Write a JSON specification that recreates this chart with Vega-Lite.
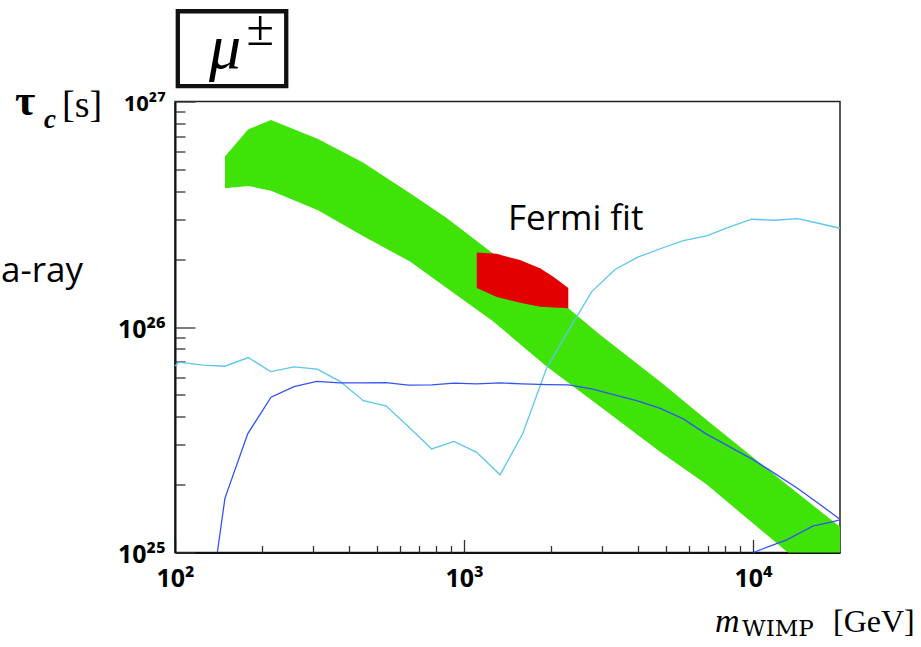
{
  "$schema": "https://vega.github.io/schema/vega-lite/v6.json",
  "width": 665,
  "height": 451,
  "autosize": {"type": "none"},
  "padding": {"left": 175, "top": 101.5, "right": 81, "bottom": 94.5},
  "background": "white",
  "config": {"view": {"stroke": "#222", "strokeWidth": 1.5}},
  "resolve": {"axis": {"x": "independent", "y": "independent"}},
  "datasets": {
    "band": [
      {"m": 148.9, "tau": 5.70e26, "tau2": 4.12e26},
      {"m": 179.3, "tau": 7.53e26, "tau2": 4.22e26},
      {"m": 214.9, "tau": 8.28e26, "tau2": 4.02e26},
      {"m": 312.5, "tau": 6.82e26, "tau2": 3.29e26},
      {"m": 447.2, "tau": 5.37e26, "tau2": 2.53e26},
      {"m": 650.6, "tau": 3.92e26, "tau2": 1.95e26},
      {"m": 871.2, "tau": 3.04e26, "tau2": 1.49e26},
      {"m": 1260, "tau": 2.12e26, "tau2": 1.06e26},
      {"m": 1932, "tau": 1.42e26, "tau2": 6.68e25},
      {"m": 2296, "tau": 1.21e26, "tau2": 5.66e25},
      {"m": 2956, "tau": 9.23e25, "tau2": 4.44e25},
      {"m": 4766, "tau": 5.73e25, "tau2": 2.80e25},
      {"m": 6916, "tau": 3.87e25, "tau2": 2.00e25},
      {"m": 13081, "tau": 2.00e25, "tau2": 1.01e25},
      {"m": 20000, "tau": 1.30e25, "tau2": 6.36e24}
    ],
    "fermi": [
      {"m": 1107, "tau": 2.14e26, "tau2": 1.49e26},
      {"m": 1298, "tau": 2.11e26, "tau2": 1.36e26},
      {"m": 1562, "tau": 1.98e26, "tau2": 1.28e26},
      {"m": 1832, "tau": 1.82e26, "tau2": 1.23e26},
      {"m": 2037, "tau": 1.67e26, "tau2": 1.22e26},
      {"m": 2296, "tau": 1.49e26, "tau2": 1.21e26}
    ],
    "gamma": [
      {"m": 100, "tau": 6.72e25},
      {"m": 103.2, "tau": 6.98e25},
      {"m": 125.3, "tau": 6.77e25},
      {"m": 148.9, "tau": 6.70e25},
      {"m": 179.3, "tau": 7.32e25},
      {"m": 214.4, "tau": 6.34e25},
      {"m": 258.1, "tau": 6.66e25},
      {"m": 310.8, "tau": 6.50e25},
      {"m": 372.3, "tau": 5.74e25},
      {"m": 448.3, "tau": 4.71e25},
      {"m": 537.1, "tau": 4.47e25},
      {"m": 641.7, "tau": 3.62e25},
      {"m": 773.0, "tau": 2.88e25},
      {"m": 923.4, "tau": 3.11e25},
      {"m": 1106.5, "tau": 2.78e25},
      {"m": 1332.3, "tau": 2.21e25},
      {"m": 1596, "tau": 3.36e25},
      {"m": 1932, "tau": 6.57e25},
      {"m": 2296, "tau": 9.61e25},
      {"m": 2767, "tau": 1.435e26},
      {"m": 3331, "tau": 1.80e26},
      {"m": 4010, "tau": 2.045e26},
      {"m": 4831, "tau": 2.235e26},
      {"m": 5741, "tau": 2.415e26},
      {"m": 6916, "tau": 2.534e26},
      {"m": 8174, "tau": 2.758e26},
      {"m": 9897, "tau": 3.005e26},
      {"m": 11915, "tau": 2.975e26},
      {"m": 14277, "tau": 3.024e26},
      {"m": 17125, "tau": 2.870e26},
      {"m": 20000, "tau": 2.741e26}
    ],
    "bound": [
      {"seg": "a", "m": 140.1, "tau": 1.00e25},
      {"seg": "a", "m": 148.9, "tau": 1.742e25},
      {"seg": "a", "m": 178.5, "tau": 3.358e25},
      {"seg": "a", "m": 214.9, "tau": 4.885e25},
      {"seg": "a", "m": 258.1, "tau": 5.443e25},
      {"seg": "a", "m": 309.3, "tau": 5.739e25},
      {"seg": "a", "m": 372.3, "tau": 5.652e25},
      {"seg": "a", "m": 448.3, "tau": 5.652e25},
      {"seg": "a", "m": 537.1, "tau": 5.670e25},
      {"seg": "a", "m": 641.7, "tau": 5.521e25},
      {"seg": "a", "m": 773.0, "tau": 5.538e25},
      {"seg": "a", "m": 923.4, "tau": 5.635e25},
      {"seg": "a", "m": 1106.5, "tau": 5.594e25},
      {"seg": "a", "m": 1332.3, "tau": 5.652e25},
      {"seg": "a", "m": 1596, "tau": 5.594e25},
      {"seg": "a", "m": 1932, "tau": 5.555e25},
      {"seg": "a", "m": 2296, "tau": 5.538e25},
      {"seg": "a", "m": 2767, "tau": 5.317e25},
      {"seg": "a", "m": 3320, "tau": 5.001e25},
      {"seg": "a", "m": 3981, "tau": 4.703e25},
      {"seg": "a", "m": 4778, "tau": 4.357e25},
      {"seg": "a", "m": 5736, "tau": 3.913e25},
      {"seg": "a", "m": 6878, "tau": 3.358e25},
      {"seg": "a", "m": 8252, "tau": 2.956e25},
      {"seg": "a", "m": 9897, "tau": 2.602e25},
      {"seg": "a", "m": 11877, "tau": 2.244e25},
      {"seg": "a", "m": 14243, "tau": 1.926e25},
      {"seg": "a", "m": 17098, "tau": 1.627e25},
      {"seg": "a", "m": 20000, "tau": 1.404e25},
      {"seg": "b", "m": 10024, "tau": 1.00e25},
      {"seg": "b", "m": 11756, "tau": 1.082e25},
      {"seg": "b", "m": 13081, "tau": 1.138e25},
      {"seg": "b", "m": 16168, "tau": 1.313e25},
      {"seg": "b", "m": 18468, "tau": 1.361e25},
      {"seg": "b", "m": 20000, "tau": 1.396e25}
    ]
  },
  "layer": [
    {
      "data": {"name": "band"},
      "mark": {"type": "area", "color": "#40e307", "clip": true},
      "encoding": {
        "x": {
          "field": "m", "type": "quantitative",
          "scale": {"type": "log", "domain": [100, 20000], "nice": false},
          "axis": {
            "orient": "bottom",
            "values": [100, 1000, 10000],
            "labelExpr": "datum.value == 100 ? '10²' : datum.value == 1000 ? '10³' : '10⁴'",
            "title": null, "grid": false, "ticks": false,
            "domainColor": "#111", "domainWidth": 2,
            "labelFont": "Noto Sans", "labelFontWeight": "bold", "labelFontSize": 25, "labelColor": "#000",
            "labelBaseline": "top", "labelPadding": 14,
            "labelOverlap": false, "labelFlush": false, "labelBound": false
          }
        },
        "y": {
          "field": "tau", "type": "quantitative",
          "scale": {"type": "log", "domain": [1e25, 1e27], "nice": false},
          "axis": {
            "orient": "left",
            "values": [1e25, 1e26, 1e27],
            "labelExpr": "datum.value == 1e25 ? '10²⁵' : datum.value == 1e26 ? '10²⁶' : '10²⁷'",
            "title": null, "grid": false, "ticks": false,
            "domainColor": "#111", "domainWidth": 2,
            "labelFont": "Noto Sans", "labelFontWeight": "bold",
            "labelFontSize": {"condition": {"test": "datum.value == 1e27", "value": 22}, "value": 25},
            "labelColor": "#000", "labelAlign": "right", "labelBaseline": "middle",
            "labelPadding": 10, "labelOffset": 2,
            "labelOverlap": false, "labelFlush": false, "labelBound": false
          }
        },
        "y2": {"field": "tau2"}
      }
    },
    {
      "data": {"name": "fermi"},
      "mark": {"type": "area", "color": "#e30000", "clip": true},
      "encoding": {
        "x": {
          "field": "m", "type": "quantitative",
          "scale": {"type": "log", "domain": [100, 20000], "nice": false},
          "axis": {
            "orient": "bottom",
            "values": [100, 1000, 10000],
            "labels": false, "domain": false, "title": null, "grid": false,
            "tickColor": "#333", "tickWidth": 1.3, "tickSize": -13
          }
        },
        "y": {
          "field": "tau", "type": "quantitative",
          "scale": {"type": "log", "domain": [1e25, 1e27], "nice": false},
          "axis": {
            "orient": "left",
            "values": [1e25, 1e26, 1e27],
            "labels": false, "domain": false, "title": null, "grid": false,
            "tickColor": "#333", "tickWidth": 1.3, "tickSize": -20
          }
        },
        "y2": {"field": "tau2"}
      }
    },
    {
      "data": {"name": "gamma"},
      "mark": {"type": "line", "color": "#5cc6f0", "strokeWidth": 1.3, "clip": true},
      "encoding": {
        "x": {
          "field": "m", "type": "quantitative",
          "scale": {"type": "log", "domain": [100, 20000], "nice": false},
          "axis": {
            "orient": "bottom",
            "values": [200, 300, 400, 500, 600, 700, 800, 900, 2000, 3000, 4000, 5000, 6000, 7000, 8000, 9000],
            "labels": false, "domain": false, "title": null, "grid": false,
            "tickColor": "#333", "tickWidth": 1.3, "tickSize": -7
          }
        },
        "y": {
          "field": "tau", "type": "quantitative",
          "scale": {"type": "log", "domain": [1e25, 1e27], "nice": false},
          "axis": {
            "orient": "left",
            "values": [2e25, 3e25, 4e25, 5e25, 6e25, 7e25, 8e25, 9e25, 2e26, 3e26, 4e26, 5e26, 6e26, 7e26, 8e26, 9e26],
            "labels": false, "domain": false, "title": null, "grid": false,
            "tickColor": "#333", "tickWidth": 1.3, "tickSize": -10
          }
        }
      }
    },
    {
      "data": {"name": "bound"},
      "mark": {"type": "line", "color": "#3353f2", "strokeWidth": 1.3, "clip": true},
      "encoding": {
        "x": {"field": "m", "type": "quantitative", "scale": {"type": "log", "domain": [100, 20000], "nice": false}, "axis": null},
        "y": {"field": "tau", "type": "quantitative", "scale": {"type": "log", "domain": [1e25, 1e27], "nice": false}, "axis": null},
        "detail": {"field": "seg"}
      }
    },
    {
      "data": {"values": [{}]},
      "mark": {"type": "text", "text": "Fermi fit", "font": "Open Sans", "fontSize": 35, "align": "left", "baseline": "alphabetic", "color": "#000"},
      "encoding": {
        "x": {"datum": 1420, "type": "quantitative", "scale": {"type": "log", "domain": [100, 20000], "nice": false}, "axis": null},
        "y": {"datum": 2.69e26, "type": "quantitative", "scale": {"type": "log", "domain": [1e25, 1e27], "nice": false}, "axis": null}
      }
    },
    {
      "data": {"values": [{}]},
      "mark": {"type": "text", "text": "a-ray", "font": "Open Sans", "fontSize": 35, "align": "right", "baseline": "alphabetic", "color": "#000"},
      "encoding": {
        "x": {"datum": 48.05, "type": "quantitative", "scale": {"type": "log", "domain": [100, 20000], "nice": false}, "axis": null},
        "y": {"datum": 1.59e26, "type": "quantitative", "scale": {"type": "log", "domain": [1e25, 1e27], "nice": false}, "axis": null}
      }
    },
    {
      "data": {"values": [{}]},
      "mark": {"type": "rect", "filled": false, "stroke": "#111", "strokeWidth": 4.3},
      "encoding": {
        "x": {"datum": 102.26, "type": "quantitative", "scale": {"type": "log", "domain": [100, 20000], "nice": false}, "axis": null},
        "x2": {"datum": 242.6},
        "y": {"datum": 2.513e27, "type": "quantitative", "scale": {"type": "log", "domain": [1e25, 1e27], "nice": false}, "axis": null},
        "y2": {"datum": 1.169e27}
      }
    },
    {
      "data": {"values": [{}]},
      "mark": {"type": "text", "text": "μ", "font": "Liberation Serif", "fontStyle": "italic", "fontSize": 64, "align": "center", "baseline": "alphabetic", "color": "#000"},
      "encoding": {
        "x": {"datum": 148.9, "type": "quantitative", "scale": {"type": "log", "domain": [100, 20000], "nice": false}, "axis": null},
        "y": {"datum": 1.408e27, "type": "quantitative", "scale": {"type": "log", "domain": [1e25, 1e27], "nice": false}, "axis": null}
      }
    },
    {
      "data": {"values": [{}]},
      "mark": {"type": "text", "text": "±", "font": "Liberation Serif", "fontSize": 50, "align": "center", "baseline": "alphabetic", "color": "#000"},
      "encoding": {
        "x": {"datum": 197, "type": "quantitative", "scale": {"type": "log", "domain": [100, 20000], "nice": false}, "axis": null},
        "y": {"datum": 1.78e27, "type": "quantitative", "scale": {"type": "log", "domain": [1e25, 1e27], "nice": false}, "axis": null}
      }
    },
    {
      "data": {"values": [{}]},
      "mark": {"type": "text", "text": "τ", "font": "Liberation Serif", "fontWeight": "bold", "fontSize": 44, "align": "left", "baseline": "alphabetic", "color": "#000"},
      "encoding": {
        "x": {"datum": 27.95, "type": "quantitative", "scale": {"type": "log", "domain": [100, 20000], "nice": false}, "axis": null},
        "y": {"datum": 8.712e26, "type": "quantitative", "scale": {"type": "log", "domain": [1e25, 1e27], "nice": false}, "axis": null}
      }
    },
    {
      "data": {"values": [{}]},
      "mark": {"type": "text", "text": "c", "font": "Liberation Serif", "fontStyle": "italic", "fontWeight": "bold", "fontSize": 27, "align": "left", "baseline": "alphabetic", "color": "#000"},
      "encoding": {
        "x": {"datum": 35.2, "type": "quantitative", "scale": {"type": "log", "domain": [100, 20000], "nice": false}, "axis": null},
        "y": {"datum": 7.63e26, "type": "quantitative", "scale": {"type": "log", "domain": [1e25, 1e27], "nice": false}, "axis": null}
      }
    },
    {
      "data": {"values": [{}]},
      "mark": {"type": "text", "text": "[s]", "font": "Liberation Serif", "fontSize": 38, "align": "left", "baseline": "alphabetic", "color": "#000"},
      "encoding": {
        "x": {"datum": 40.64, "type": "quantitative", "scale": {"type": "log", "domain": [100, 20000], "nice": false}, "axis": null},
        "y": {"datum": 8.537e26, "type": "quantitative", "scale": {"type": "log", "domain": [1e25, 1e27], "nice": false}, "axis": null}
      }
    },
    {
      "data": {"values": [{}]},
      "mark": {"type": "text", "text": "m", "font": "Liberation Serif", "fontStyle": "italic", "fontSize": 34, "align": "left", "baseline": "alphabetic", "color": "#000"},
      "encoding": {
        "x": {"datum": 7387, "type": "quantitative", "scale": {"type": "log", "domain": [100, 20000], "nice": false}, "axis": null},
        "y": {"datum": 4.45e24, "type": "quantitative", "scale": {"type": "log", "domain": [1e25, 1e27], "nice": false}, "axis": null}
      }
    },
    {
      "data": {"values": [{}]},
      "mark": {"type": "text", "text": "WIMP", "font": "DejaVu Serif", "fontSize": 23, "align": "left", "baseline": "alphabetic", "color": "#000"},
      "encoding": {
        "x": {"datum": 9160, "type": "quantitative", "scale": {"type": "log", "domain": [100, 20000], "nice": false}, "axis": null},
        "y": {"datum": 4.242e24, "type": "quantitative", "scale": {"type": "log", "domain": [1e25, 1e27], "nice": false}, "axis": null}
      }
    },
    {
      "data": {"values": [{}]},
      "mark": {"type": "text", "text": "[GeV]", "font": "Liberation Serif", "fontSize": 32, "align": "left", "baseline": "alphabetic", "color": "#000"},
      "encoding": {
        "x": {"datum": 18913, "type": "quantitative", "scale": {"type": "log", "domain": [100, 20000], "nice": false}, "axis": null},
        "y": {"datum": 4.419e24, "type": "quantitative", "scale": {"type": "log", "domain": [1e25, 1e27], "nice": false}, "axis": null}
      }
    }
  ]
}
